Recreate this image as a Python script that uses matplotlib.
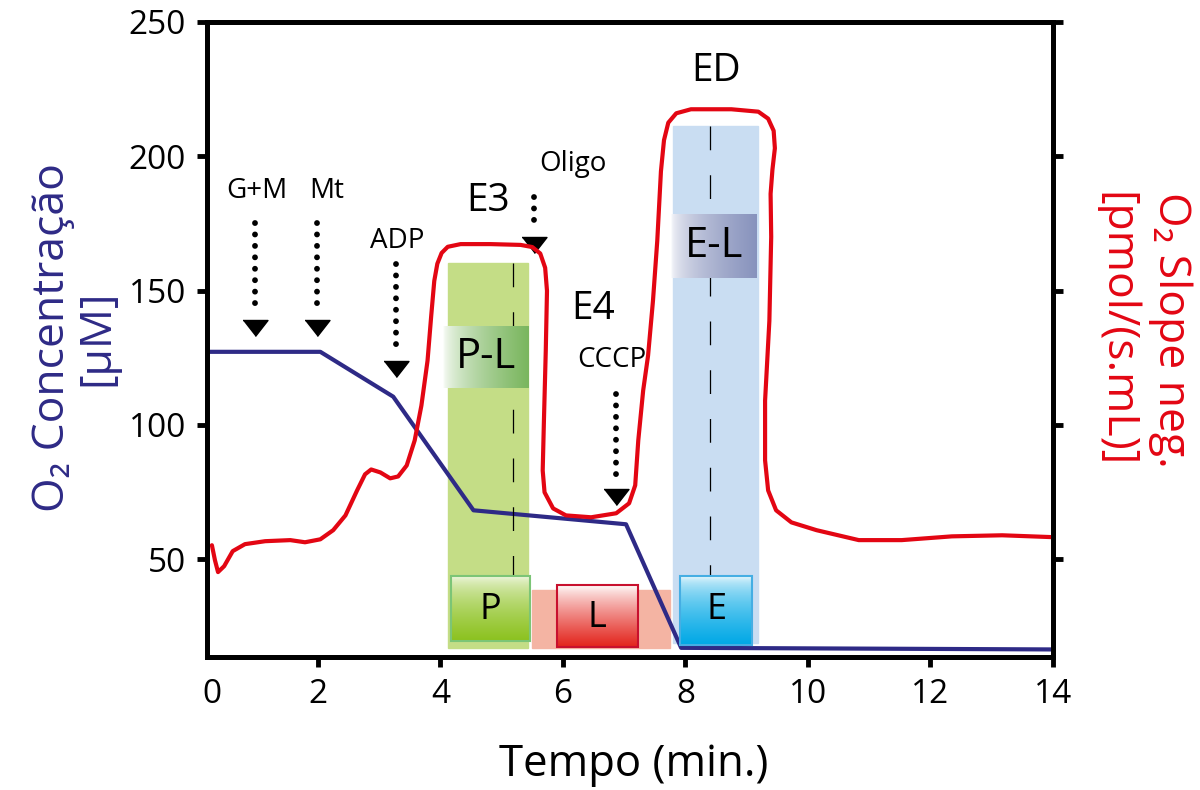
import numpy as np
import matplotlib.pyplot as plt
from matplotlib.colors import LinearSegmentedColormap
from matplotlib.patches import Rectangle

plt.rcParams['font.family'] = ['Open Sans', 'DejaVu Sans']

# O2 concentration (left axis, uM)
time_o2 = [0.19, 2.04, 3.23, 4.54, 7.03, 7.93, 14.0]
o2_conc = [127.2, 127.2, 110.5, 68.2, 63.0, 17.0, 16.4]

# O2 slope neg. (right axis)
slope_t = [0.27, 0.32, 0.37, 0.47, 0.61, 0.81, 1.14, 1.55, 1.79, 2.04,
           2.25, 2.45, 2.64, 2.77, 2.87, 3.02, 3.18, 3.31, 3.45, 3.58,
           3.69, 3.79, 3.85, 3.90, 3.95, 4.02, 4.12, 4.33, 4.82, 5.31, 5.50,
           5.63, 5.71, 5.74, 5.72, 5.69, 5.67, 5.70, 5.84, 6.05, 6.46, 6.87,
           7.08, 7.18, 7.23, 7.31, 7.39, 7.47, 7.54, 7.60, 7.65, 7.72, 7.85,
           8.09, 8.75, 9.19, 9.35, 9.44, 9.46, 9.42, 9.39, 9.40, 9.37, 9.30,
           9.30, 9.35, 9.48, 9.73, 10.14, 10.83, 11.53, 12.35, 13.17, 14.0]
slope_v = [55.2, 49.6, 45.2, 47.4, 53.0, 55.6, 56.7, 57.1, 56.3, 57.4,
           60.8, 66.3, 75.6, 81.6, 83.4, 82.3, 80.1, 80.8, 84.9, 94.2,
           107.2, 123.9, 140.6, 153.6, 160.0, 164.0, 166.3, 167.3, 167.3, 167.0, 166.2,
           163.8, 158.5, 149.9, 127.6, 101.6, 83.0, 74.9, 68.9, 66.3, 65.6, 67.1,
           70.8, 77.5, 94.2, 112.8, 125.8, 146.2, 168.5, 194.4, 206.0, 212.5, 216.0,
           217.5, 217.5, 216.6, 214.0, 209.5, 203.0, 195.0, 186.0, 170.0, 138.7, 109.0,
           86.8, 75.6, 68.2, 63.7, 60.8, 57.1, 57.1, 58.5, 58.9, 58.2]

# additions (dotted arrows)
add_labels = ['G+M', 'Mt', 'ADP', 'Oligo', 'CCCP']
add_x = [0.97, 1.99, 3.27, 5.52, 6.87]
add_top = [175.0, 175.0, 159.9, 185.0, 111.6]
add_head = [136.1, 136.1, 120.9, 167.0, 73.0]
add_text_xy = [(1.01, 187), (2.15, 187), (3.30, 168.5), (6.16, 197), (6.80, 124)]

BLUE = '#2e2a86'
RED = '#e30613'

fig = plt.figure(figsize=(12, 7.9), dpi=100)
ax = fig.add_axes([0.1725, 0.1684, 0.705, 0.8038])
ax2 = ax.twinx()


def grad_box(x0, x1, y0, y1, color, horizontal=False, edge=None, power=1.0, z=3):
    cmap = LinearSegmentedColormap.from_list('g', ['white', color])
    if horizontal:
        arr = np.linspace(0, 1, 200)[None, :] ** power
    else:
        arr = np.linspace(1, 0, 200)[:, None] ** power
    ax.imshow(arr, cmap=cmap, vmin=0, vmax=1, extent=[x0, x1, y0, y1],
              origin='lower', aspect='auto', zorder=z, interpolation='bilinear')
    if edge:
        ax.add_patch(Rectangle((x0, y0), x1 - x0, y1 - y0, fill=False,
                               ec=edge, lw=1.5, zorder=z + 0.1))


# state columns
ax.add_patch(Rectangle((4.12, 17.0), 1.31, 143.3, color='#c4dd86', zorder=1))
ax.add_patch(Rectangle((7.80, 18.8), 1.39, 192.4, color='#c9ddf2', zorder=1))
ax.add_patch(Rectangle((5.49, 17.0), 2.26, 21.5, color='#f4b4a3', zorder=1))

grad_box(4.05, 5.44, 113.9, 136.9, '#7ab65e', horizontal=True, power=0.6)
grad_box(7.77, 9.16, 154.7, 178.5, '#8893bd', horizontal=True, power=0.5)
grad_box(4.18, 5.46, 19.5, 43.7, '#8cc21f', edge='#7cc576', power=0.5)
grad_box(5.90, 7.23, 17.3, 40.3, '#e3241c', edge='#c8102e', power=0.8)
grad_box(7.91, 9.09, 18.1, 43.7, '#00a8e6', edge='#45aee3', power=0.5)

for xd, y_top in [(5.18, 160.3), (8.40, 211.2)]:
    ax.plot([xd, xd], [y_top, 40], color='black', lw=0.9,
            dashes=(19, 20), zorder=2.5)

ax.plot(time_o2, o2_conc, color=BLUE, lw=3, zorder=2)
ax2.plot(slope_t, slope_v, color=RED, lw=3, solid_capstyle='round',
         solid_joinstyle='round')

# box labels
for txt, xy, fs in [('P-L', (4.74, 125.4), 30), ('E-L', (8.46, 166.6), 30),
                    ('P', (4.82, 31.0), 26), ('L', (6.56, 28.0), 26),
                    ('E', (8.50, 31.0), 26)]:
    ax.text(*xy, txt, fontsize=fs, ha='center', va='center', zorder=5)

# state labels
for txt, xy in [('E3', (4.77, 183.3)), ('E4', (6.50, 143.2)), ('ED', (8.50, 231.6))]:
    ax.text(*xy, txt, fontsize=28, ha='center', va='center')

# dotted arrows
head = [(-1, 0.64), (1, 0.64), (0, -0.64)]
for lab, xa, yt, yh, txy in zip(add_labels, add_x, add_top, add_head, add_text_xy):
    ax.plot([xa, xa], [yt, yh + 6], color='black', lw=4.2,
            linestyle=(0, (0.01, 1.95)), dash_capstyle='round', zorder=4)
    ax.plot([xa], [yh], marker=head, ms=18, color='black', zorder=4)
    ax.text(*txy, lab, fontsize=20, ha='center', va='center')

# axes styling
ax.set_xlim(0.19, 14.0)
ax.set_ylim(13.6, 250)
ax2.set_ylim(13.6, 250)
ax.set_xticks([0.27, 2, 4, 6, 8, 10, 12, 14])
ax.set_xticklabels(['0', '2', '4', '6', '8', '10', '12', '14'])
ax.xaxis.get_major_ticks()[0].tick1line.set_visible(False)
ax.set_yticks([50, 100, 150, 200, 250])
ax2.set_yticks([50, 100, 150, 200, 250])
ax2.tick_params(axis='y', labelright=False, direction='out', length=7, width=3.5)
ax.tick_params(direction='out', length=7, width=3.5, labelsize=24, pad=8)
for a in (ax, ax2):
    for s in a.spines.values():
        s.set_linewidth(3.5)

fig.text(634 / 1200, 1 - 765 / 790, 'Tempo (min.)', fontsize=31.5,
         ha='center', va='center')
fig.text(75 / 1200, 1 - 338 / 790, 'O\u2082 Concentração\n[μM]', fontsize=32,
         color=BLUE, rotation=90, ha='center', va='center',
         multialignment='center', linespacing=1.0)
fig.text(1143 / 1200, 1 - 330 / 790, 'O\u2082 Slope neg.\n[pmol/(s.mL)]',
         fontsize=32, color=RED, rotation=-90, ha='center', va='center',
         multialignment='center', linespacing=1.3)

fig.savefig('out.png', dpi=100)
